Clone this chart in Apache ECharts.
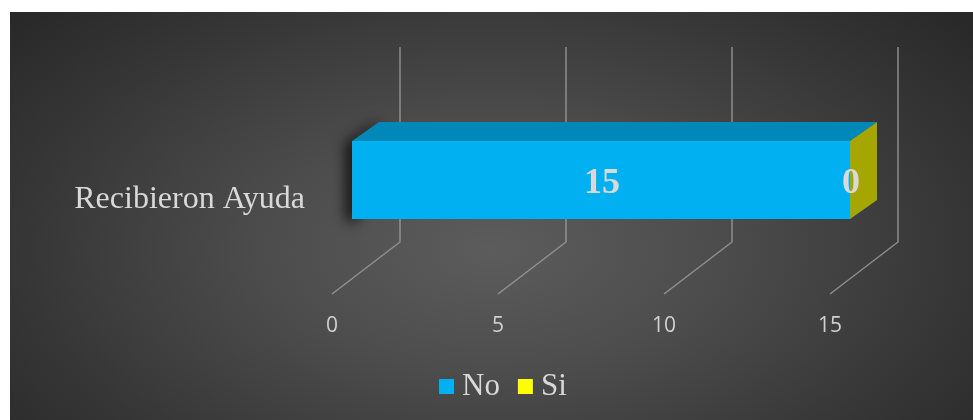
<!DOCTYPE html>
<html>
<head>
<meta charset="utf-8">
<script src="https://cdn.jsdelivr.net/npm/echarts@6/dist/echarts.min.js"></script>
<style>
  html, body { margin: 0; padding: 0; background: #ffffff; }
  #panel {
    position: absolute; left: 10px; top: 12px; width: 963px; height: 408px;
    background: radial-gradient(ellipse 65% 85% at 50% 58%, #5c5c5c 0%, #4d4d4d 35%, #363636 75%, #292929 100%);
  }
  #chart { position: absolute; left: 0; top: 0; width: 973px; height: 420px; }
</style>
</head>
<body>
<div id="panel"></div>
<div id="chart"></div>
<script>
// Survey answers: did they receive help?
const categories = ['Recibieron Ayuda'];
const seriesNames = ['No', 'Si'];
const noValues = [15];
const siValues = [0];
const tickValues = [0, 5, 10, 15];

const chart = echarts.init(document.getElementById('chart'), null, { renderer: 'canvas' });

// Perspective offsets for the pseudo-3D box and the back wall
const WALL_DX = 68, WALL_DY = 52, WALL_TOP = 47;
const BAR_DX1 = 20, BAR_DX2 = 47, BAR_DY = 19;
const BAR_H = 78;

const faceColors = {
  No: { front: '#00b0f0', top: '#0088b8', side: '#007aa6' },
  Si: { front: '#ffff00', top: '#c8c800', side: '#a6a600' }
};

// Stacked start/end pairs built from the value arrays
function stackedData(values, prev) {
  return values.map((v, i) => {
    const start = prev ? prev[i][1] : 0;
    return [start, start + v, i, v];
  });
}
const noData = stackedData(noValues, null);
const siData = stackedData(siValues, noData);

function barRenderer(name, withShadow) {
  return function (params, api) {
    const start = api.value(0), end = api.value(1), idx = api.value(2), val = api.value(3);
    const p0 = api.coord([start, idx]);
    const p1 = api.coord([end, idx]);
    const x0 = p0[0] + BAR_DX1, x1 = p1[0] + BAR_DX1;
    const cy = p0[1];
    const top = cy - BAR_H / 2, bottom = cy + BAR_H / 2;
    const ddx = BAR_DX2 - BAR_DX1, ddy = BAR_DY;
    const c = faceColors[name];
    const children = [];
    if (withShadow) {
      // soft drop shadow along the left end of the box
      children.push({
        type: 'polygon',
        shape: { points: [[x0 + 2, top], [x0 + ddx, top - ddy + 2], [x0 + ddx + 10, top - ddy + 2], [x0 + 12, top], [x0 + 12, bottom], [x0 + 2, bottom]] },
        style: { fill: '#000', shadowBlur: 14, shadowColor: 'rgba(0,0,0,1)', shadowOffsetX: -7, shadowOffsetY: 2 }
      });
    }
    children.push({
      type: 'rect',
      shape: { x: x0, y: top, width: x1 - x0, height: BAR_H },
      style: { fill: c.front }
    });
    children.push({
      type: 'polygon',
      shape: { points: [[x0, top], [x0 + ddx, top - ddy], [x1 + ddx, top - ddy], [x1, top]] },
      style: { fill: c.top }
    });
    children.push({
      type: 'polygon',
      shape: { points: [[x1, top], [x1 + ddx, top - ddy], [x1 + ddx, bottom - ddy], [x1, bottom]] },
      style: { fill: c.side }
    });
    children.push({
      type: 'text',
      style: {
        x: (x0 + x1) / 2 + 1, y: cy + 4, text: String(val),
        align: 'center', verticalAlign: 'middle',
        fill: '#d9d9d9', font: 'bold 36px "Liberation Serif", "Times New Roman", serif'
      },
      z2: 10
    });
    return { type: 'group', children: children };
  };
}

function wallRenderer(params, api) {
  const cs = params.coordSys;
  const floorY = cs.y + cs.height;
  const p = api.coord([api.value(0), 0]);
  const xf = p[0];
  return {
    type: 'polyline',
    shape: { points: [[xf + WALL_DX, WALL_TOP], [xf + WALL_DX, floorY - WALL_DY], [xf, floorY]] },
    style: { fill: null, stroke: 'rgba(160,160,160,0.8)', lineWidth: 1.5 },
    silent: true
  };
}

const option = {
  backgroundColor: 'transparent',
  animation: false,
  grid: { left: 332, right: 143, top: 66, bottom: 126, containLabel: false },
  xAxis: {
    type: 'value', min: 0, max: 15, interval: 5,
    axisLine: { show: false }, axisTick: { show: false }, splitLine: { show: false },
    axisLabel: { color: '#d0d0d0', fontFamily: '"Open Sans", sans-serif', fontSize: 21, margin: 22 }
  },
  yAxis: {
    type: 'category', data: categories,
    axisLine: { show: false }, axisTick: { show: false }, splitLine: { show: false },
    axisLabel: {
      color: '#d9d9d9', fontFamily: '"Liberation Serif", "Times New Roman", serif', fontSize: 32,
      margin: 27, verticalAlign: 'top', lineHeight: 39
    }
  },
  legend: {
    data: seriesNames, left: 439, top: 371, padding: 0,
    icon: 'rect', itemWidth: 15, itemHeight: 15, itemGap: 18,
    textStyle: { color: '#d9d9d9', fontFamily: '"Liberation Serif", "Times New Roman", serif', fontSize: 31, padding: [0, 0, 0, 3] }
  },
  series: [
    {
      type: 'custom', name: 'wall', renderItem: wallRenderer,
      data: tickValues.map(v => [v]), encode: { x: 0 }, z: 1, silent: true
    },
    {
      type: 'custom', name: seriesNames[0], renderItem: barRenderer('No', true),
      data: noData, encode: { x: [0, 1], y: 2 }, itemStyle: { color: faceColors.No.front }, z: 3
    },
    {
      type: 'custom', name: seriesNames[1], renderItem: barRenderer('Si', false),
      data: siData, encode: { x: [0, 1], y: 2 }, itemStyle: { color: faceColors.Si.front }, z: 4
    }
  ]
};
chart.setOption(option);
</script>
</body>
</html>
